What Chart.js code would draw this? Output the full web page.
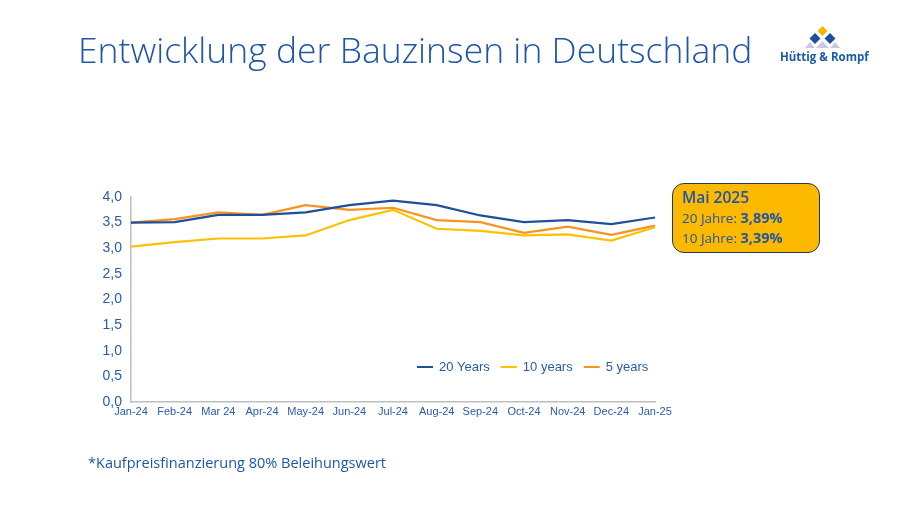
<!DOCTYPE html>
<html>
<head>
<meta charset="utf-8">
<script src="https://cdn.jsdelivr.net/npm/chart.js@4.4.1/dist/chart.umd.min.js"></script>
<style>
  body { margin: 0; background: #fff; }
  #page { position: relative; width: 900px; height: 506px; overflow: hidden; background: #fff; }
  #chart { position: absolute; left: 0; top: 0; }
  .title { position: absolute; left: 78px; top: 26px; font-family: 'Open Sans', sans-serif; font-weight: 300;
    font-size: 35px; color: #1f56a8; white-space: nowrap; transform-origin: left top; }
  .note { position: absolute; left: 88px; top: 452px; font-family: 'Open Sans', sans-serif; font-size: 15px;
    color: #1f56a8; white-space: nowrap; transform-origin: left top; }
  .box { position: absolute; left: 672px; top: 183px; width: 148px; height: 70px; box-sizing: border-box;
    background: #fcb900; border: 1.5px solid #1f3864; border-radius: 12px; padding: 3px 0 0 9px;
    font-family: 'Open Sans', sans-serif; color: #1f56a8; }
  .box .h { font-size: 15.5px; font-weight: 600; line-height: 21px; }
  .box .r { font-size: 13.5px; line-height: 20px; white-space: nowrap; }
  .box b { font-size: 14.5px; font-weight: 700; }
  .logo { position: absolute; left: 778px; top: 24px; }
  .logo svg { position: absolute; left: 0; top: 0; }
  .logo .t { position: absolute; left: 2px; top: 25px; font-family: 'Open Sans', sans-serif; font-weight: 700;
    font-size: 11.5px; color: #1d5aa6; white-space: nowrap; }
</style>
</head>
<body>
<div id="page">
  <canvas id="chart" width="900" height="506"></canvas>
  <div class="title" id="title">Entwicklung der Bauzinsen in Deutschland</div>
  <div class="note" id="note">*Kaufpreisfinanzierung 80% Beleihungswert</div>
  <div class="box">
    <div class="h">Mai 2025</div>
    <div class="r">20 Jahre: <b>3,89%</b></div>
    <div class="r">10 Jahre: <b>3,39%</b></div>
  </div>
  <div class="logo">
    <svg width="100" height="26" viewBox="0 0 100 26">
      <polygon points="27,24 32,18 37,24" fill="#c9cbe3"/>
      <polygon points="38,24 44.5,17 51,24" fill="#c9cbe3"/>
      <polygon points="52,24 57,18 62,24" fill="#c9cbe3"/>
      <polygon points="44.5,2 49.5,7 44.5,12 39.5,7" fill="#f7b500"/>
      <polygon points="37,9 42.5,14.5 37,20 31.5,14.5" fill="#1d4f9c"/>
      <polygon points="52,9 57.5,14.5 52,20 46.5,14.5" fill="#1d4f9c"/>
    </svg>
    <div class="t">Hüttig &amp; Rompf</div>
  </div>
</div>
<script>
const months = ['Jan-24', 'Feb-24', 'Mar 24', 'Apr-24', 'May-24', 'Jun-24', 'Jul-24',
  'Aug-24', 'Sep-24', 'Oct-24', 'Nov-24', 'Dec-24', 'Jan-25'];
const years20 = [3.50, 3.51, 3.65, 3.65, 3.70, 3.84, 3.93, 3.84, 3.64, 3.51, 3.55, 3.47, 3.60];
const years10 = [3.03, 3.12, 3.19, 3.19, 3.25, 3.55, 3.75, 3.38, 3.34, 3.25, 3.27, 3.15, 3.41];
const years5 = [3.50, 3.57, 3.70, 3.65, 3.84, 3.75, 3.79, 3.55, 3.51, 3.30, 3.42, 3.26, 3.44];

const blue = '#1d4f9c';
const yellow = '#ffc000';
const orange = '#f7931e';
const textBlue = '#2a5ba8';

// squeeze html text to the widths in the reference
function fit(id, w) {
  const el = document.getElementById(id);
  el.style.transform = 'scaleX(' + (w / el.scrollWidth) + ')';
}
fit('title', 674);
fit('note', 298);

// legend drawn inside the plot, bottom right
const innerLegend = {
  id: 'innerLegend',
  afterDraw(chart) {
    const ctx = chart.ctx;
    ctx.save();
    ctx.font = '13px "Liberation Sans", Arial, sans-serif';
    ctx.textBaseline = 'middle';
    let x = 417;
    const y = 367;
    chart.data.datasets.forEach((ds) => {
      ctx.strokeStyle = ds.borderColor;
      ctx.lineWidth = 2;
      ctx.beginPath();
      ctx.moveTo(x, y);
      ctx.lineTo(x + 16, y);
      ctx.stroke();
      ctx.fillStyle = textBlue;
      ctx.fillText(ds.label, x + 22, y);
      x += 22 + ctx.measureText(ds.label).width + 11;
    });
    ctx.restore();
  },
};

const ctx = document.getElementById('chart').getContext('2d');
new Chart(ctx, {
  type: 'line',
  data: {
    labels: months,
    datasets: [
      { label: '20 Years', data: years20, borderColor: blue, backgroundColor: blue },
      { label: '10 years', data: years10, borderColor: yellow, backgroundColor: yellow },
      { label: '5 years', data: years5, borderColor: orange, backgroundColor: orange },
    ],
  },
  options: {
    responsive: false,
    animation: false,
    elements: {
      line: { borderWidth: 2.2, tension: 0 },
      point: { radius: 0 },
    },
    layout: { padding: { left: 91, top: 197, right: 245, bottom: 74 } },
    plugins: { legend: { display: false }, tooltip: { enabled: false } },
    scales: {
      x: {
        offset: false,
        grid: { display: false, drawTicks: false },
        border: { display: true, color: '#bfbfbf', width: 1.5 },
        ticks: {
          autoSkip: false, maxRotation: 0, padding: 3, color: textBlue,
          font: { family: '"Liberation Sans", Arial, sans-serif', size: 11 },
        },
        afterFit: (s) => { s.height = 30; },
      },
      y: {
        min: 0,
        max: 4,
        grid: { display: false, drawTicks: false },
        border: { display: true, color: '#bfbfbf', width: 1.5 },
        ticks: {
          stepSize: 0.5, padding: 9, color: textBlue,
          font: { family: '"Liberation Sans", Arial, sans-serif', size: 14 },
          callback: (v) => v.toFixed(1).replace('.', ','),
        },
        afterFit: (s) => { s.width = 40; },
      },
    },
  },
  plugins: [innerLegend],
});
</script>
</body>
</html>
